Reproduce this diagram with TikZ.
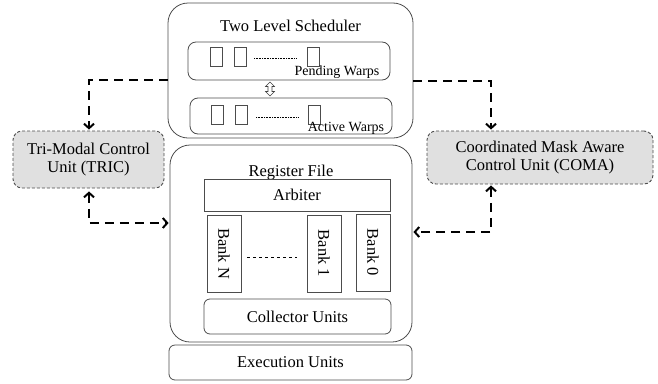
\documentclass[tikz,border=0pt]{standalone}
\usepackage{fontspec}
\setmainfont{Liberation Serif}
\usetikzlibrary{arrows.meta}
\begin{document}
\begin{tikzpicture}[x=1pt,y=-1pt,
    font=\fontsize{16.5}{18}\selectfont,
    >={Straight Barb[length=4.5pt,width=10pt,line width=2pt]},
    blk/.style={draw=black!70, line width=0.8pt, rounded corners=#1, inner sep=0pt},
    blk/.default=6pt,
    sq/.style={draw=black!70, line width=0.8pt, minimum width=12pt, minimum height=19pt, inner sep=0pt},
    bank/.style={draw=black!70, line width=0.8pt, minimum width=34pt, minimum height=77pt, inner sep=0pt},
    ctrl/.style={draw=black!70, fill=black!12, line width=0.9pt, dash pattern=on 3pt off 2pt,
      rounded corners=9pt, align=center, inner sep=0pt},
    conn/.style={line width=2.8pt, dash pattern=on 9pt off 6pt},
    warp/.style={font=\fontsize{14}{16}\selectfont, anchor=base}]
  \useasboundingbox (0,0) rectangle (658,383);

  % scheduler
  \node[blk=20pt, minimum width=245pt, minimum height=135pt] (sched) at (290.5,70.5) {};
  \node[anchor=base] (schedlbl) at (290.5,31) {Two Level Scheduler};
  \node[blk=8pt, minimum width=202pt, minimum height=38pt] (pend) at (289,61) {};
  \node[blk=8pt, minimum width=202pt, minimum height=36pt] (act) at (291,116) {};

  \node[sq] (p1) at (216,56.5) {};
  \node[sq] (p2) at (240.5,56.5) {};
  \node[sq] (p3) at (313,57) {};
  \draw[densely dotted, line width=0.6pt] (254,58) -- (297,58);
  \node[warp] (pendlbl) at (337,75) {Pending Warps};

  \node[sq] (a1) at (217.5,114.5) {};
  \node[sq] (a2) at (241.5,114.5) {};
  \node[sq] (a3) at (314.5,114.5) {};
  \draw[densely dotted, line width=0.6pt] (256,117) -- (298,117);
  \node[warp] (actlbl) at (346,131) {Active Warps};

  \draw[black!75, line width=0.6pt] (270,82) -- (274.5,86.5) -- (272,86.5) -- (272,91.5) -- (274.5,91.5)
    -- (270,96) -- (265.5,91.5) -- (268,91.5) -- (268,86.5) -- (265.5,86.5) -- cycle;

  % register file
  \node[blk=20pt, minimum width=242pt, minimum height=197pt] (regf) at (291,243.5) {};
  \node[anchor=base] (regflbl) at (291,176) {Register File};
  \node[draw=black!70, line width=0.8pt, minimum width=186pt, minimum height=32pt, inner sep=0pt]
    (arb) at (297,195) {Arbiter};
  \node[bank] (bankN) at (224,253.5) {\rotatebox{-90}{Bank N}};
  \node[bank] (bank1) at (324,253.5) {\rotatebox{-90}{Bank 1}};
  \node[bank] (bank0) at (373,252.5) {\rotatebox{-90}{Bank 0}};
  \draw[dashed, line width=0.7pt] (247,257) -- (297,257);
  \node[blk, minimum width=187pt, minimum height=35pt] (coll) at (297.5,316.5) {Collector Units};

  \node[blk, minimum width=243pt, minimum height=35pt] (exec) at (290.5,362.5) {Execution Units};

  % control units
  \node[ctrl, minimum width=151pt, minimum height=57pt] (tric) at (88.5,159.5)
    {Tri-Modal Control\\Unit (TRIC)};
  \node[ctrl, minimum width=226pt, minimum height=53pt] (coma) at (540,157.5)
    {Coordinated Mask Aware\\Control Unit (COMA)};

  \coordinate (tricin) at (89,80);
  \coordinate (comain) at (491,81);
  \draw[conn, ->, shorten >=1pt] (sched.west |- tricin) -- (tricin) -- (tricin |- tric.north);
  \draw[conn, ->, shorten >=1pt] (sched.east |- comain) -- (comain) -- (comain |- coma.north);

  \coordinate (tricout) at (89,223);
  \coordinate (comaout) at (491,232);
  \draw[conn, <->, shorten <=3pt, shorten >=1pt]
    (tricout |- tric.south) -- (tricout) -- (tricout -| regf.west);
  \draw[conn, <->, shorten <=1pt, shorten >=1pt]
    (comaout |- coma.south) -- (comaout) -- (comaout -| regf.east);
\end{tikzpicture}
\end{document}
